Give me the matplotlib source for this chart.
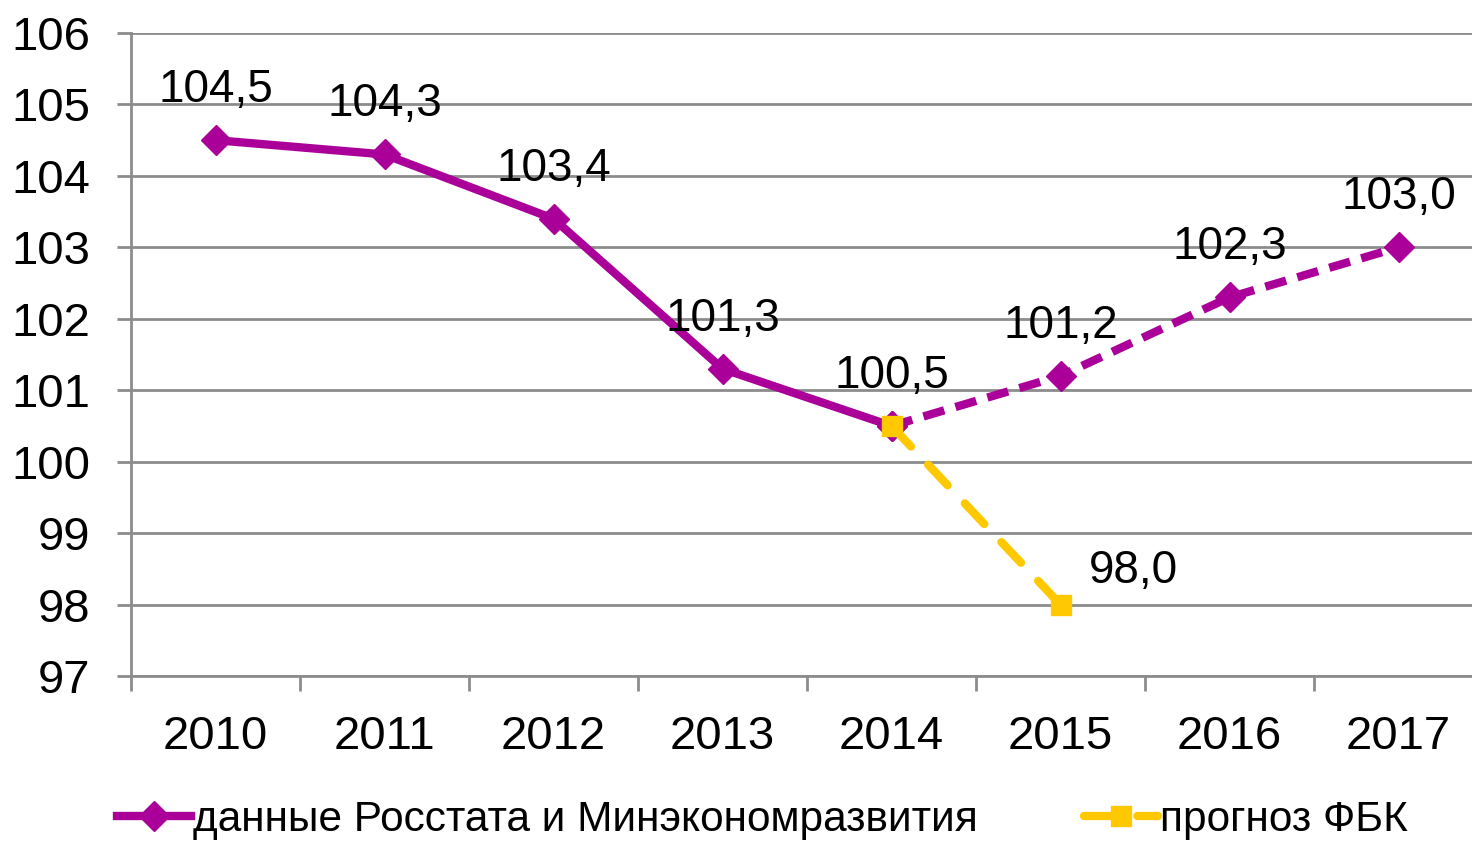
import matplotlib
matplotlib.use('Agg')
import matplotlib.pyplot as plt
import numpy as np

plt.rcParams['font.family'] = ['Liberation Sans', 'DejaVu Sans']

years = ['2010', '2011', '2012', '2013', '2014', '2015', '2016', '2017']
fact_vals = [104.5, 104.3, 103.4, 101.3, 100.5]        # 2010-2014, Росстат
plan_vals = [100.5, 101.2, 102.3, 103.0]               # 2014-2017, Минэкономразвития
fbk_vals = [100.5, 98.0]                               # 2014-2015, прогноз ФБК
label_vals = [104.5, 104.3, 103.4, 101.3, 100.5, 101.2, 102.3, 103.0]

purple = '#AA0099'
yellow = '#FFC800'
grid_c = '#8C8C8C'

fig = plt.figure(figsize=(14.72, 8.43), dpi=100)
ax = fig.add_axes([131 / 1472, 1 - 676 / 843, 1352 / 1472, 643 / 843])

x = np.arange(len(years))
ax.plot(x[:5], fact_vals, color=purple, lw=6, marker='D', ms=15,
        label='данные Росстата и Минэкономразвития', zorder=3)
ax.plot(x[4:], plan_vals, color=purple, lw=6, ls=(0, (2.6, 1.4)),
        marker='D', ms=15, zorder=3)
ax.plot(x[4:6], fbk_vals, color=yellow, lw=6, ls=(0, (3.4, 3.0)),
        dash_capstyle='round', marker='s', ms=15, label='прогноз ФБК', zorder=4)

# data labels
for i, v in enumerate(label_vals):
    s = f'{v:.1f}'.replace('.', ',')
    ax.text(i, v + 0.7, s, ha='center', va='center', fontsize=33, zorder=5)
ax.text(5.43, fbk_vals[1] + 0.47, f'{fbk_vals[1]:.1f}'.replace('.', ','),
        ha='center', va='center', fontsize=33, zorder=5)

ax.set_xlim(-0.5, 7.5)
ax.set_ylim(97, 106)
ax.set_yticks(np.arange(97, 107, 1))
ax.set_xticks(x)
ax.set_xticklabels(years)
ax.set_xticks(np.arange(-0.5, 8, 1), minor=True)
ax.tick_params(axis='x', which='major', length=0, labelsize=34, pad=28)
ax.tick_params(axis='x', which='minor', length=11, width=2, color=grid_c)
ax.tick_params(axis='y', length=10, width=2, color=grid_c, labelsize=34, pad=19)

ax.yaxis.grid(True, color=grid_c, lw=2)
ax.set_axisbelow(True)
for side in ['top', 'right']:
    ax.spines[side].set_visible(False)
for side in ['left', 'bottom']:
    ax.spines[side].set_color(grid_c)
    ax.spines[side].set_linewidth(2)

fig.legend(loc='center', bbox_to_anchor=(0.518, 0.027), ncol=2,
           frameon=False, fontsize=30.5, handlelength=1.75, handletextpad=0.05,
           columnspacing=2.5)

fig.savefig('out.png', dpi=100)
